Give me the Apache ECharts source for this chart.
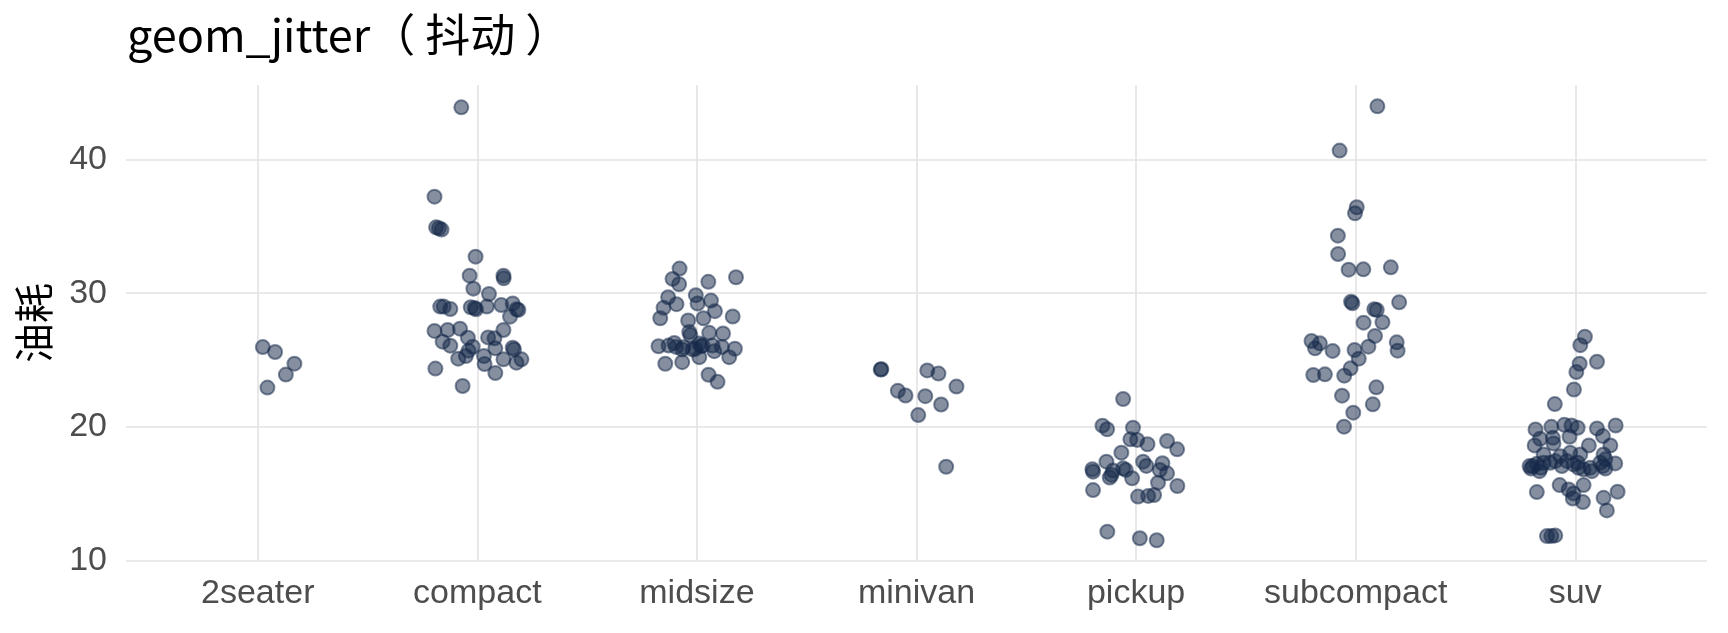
<!DOCTYPE html>
<html>
<head>
<meta charset="utf-8">
<script src="https://cdn.jsdelivr.net/npm/echarts@6/dist/echarts.min.js"></script>
<style>
html,body{margin:0;padding:0;background:#fff;}
#chart{width:1728px;height:633px;}
</style>
</head>
<body>
<div id="chart"></div>
<script>
// Categories (vehicle class)
var categories = ['2seater', 'compact', 'midsize', 'minivan', 'pickup', 'subcompact', 'suv'];
// Y tick labels
var yTicks = [10, 20, 30, 40];

// Jittered points per class: [horizontal jitter offset (category units), hwy value]
var seater2 = [[0.023,25.98],[0.079,25.61],[0.167,24.74],[0.128,23.92],[0.044,22.95]];
var compact = [[-0.073,43.88],[-0.195,37.21],[-0.188,34.92],[-0.163,34.75],[-0.175,34.85],[-0.008,32.73],[-0.035,31.31],[0.119,31.31],[0.120,31.11],[-0.018,30.34],[0.053,29.94],[-0.169,29.0],[-0.153,29.0],[-0.123,28.82],[-0.030,28.95],[-0.012,28.9],[-0.006,28.8],[0.043,29.0],[0.109,29.12],[0.161,29.24],[0.179,28.8],[0.187,28.75],[0.149,28.25],[-0.195,27.18],[-0.135,27.25],[-0.079,27.35],[0.119,27.25],[-0.158,26.38],[-0.123,26.08],[-0.043,26.68],[-0.021,26.0],[-0.040,25.71],[0.049,26.7],[0.078,26.63],[0.082,25.88],[0.161,25.93],[0.167,25.8],[-0.087,25.11],[-0.052,25.31],[0.030,25.31],[0.033,24.71],[0.119,25.06],[0.178,24.81],[0.201,25.06],[-0.191,24.37],[0.082,24.04],[-0.067,23.07]];
var midsize = [[-0.079,31.84],[-0.111,31.07],[-0.081,30.67],[0.052,30.85],[0.178,31.19],[-0.131,29.70],[-0.005,29.85],[0.003,29.23],[0.064,29.45],[-0.093,29.18],[-0.152,28.91],[0.082,28.66],[-0.167,28.13],[0.030,28.13],[0.163,28.26],[-0.040,27.96],[-0.035,27.11],[-0.030,26.87],[0.056,27.04],[0.119,26.99],[-0.175,26.04],[-0.129,26.09],[-0.103,26.29],[-0.095,25.99],[-0.067,25.80],[0.011,26.24],[0.018,26.04],[0.026,26.09],[-0.008,25.85],[0.071,26.09],[0.079,25.67],[0.114,25.99],[0.173,25.85],[0.147,25.22],[0.011,25.22],[-0.144,24.73],[-0.067,24.85],[0.053,23.91],[0.094,23.38],[-0.020,25.8],[-0.061,25.97]];
var minivan = [[-0.163,24.30],[-0.160,24.32],[0.049,24.23],[0.100,24.0],[0.182,23.03],[-0.085,22.71],[-0.050,22.36],[0.040,22.31],[0.112,21.69],[0.008,20.90],[0.135,17.04]];
var pickup = [[-0.059,22.10],[-0.153,20.11],[-0.132,19.84],[-0.014,19.96],[-0.026,19.09],[0.005,19.04],[0.052,18.72],[0.141,18.96],[0.187,18.34],[-0.067,18.09],[-0.135,17.42],[0.032,17.42],[0.047,17.10],[0.120,17.30],[-0.199,16.85],[-0.196,16.67],[-0.105,16.75],[-0.059,16.92],[-0.047,16.80],[0.108,16.80],[0.141,16.55],[-0.120,16.23],[-0.112,16.43],[-0.018,16.18],[0.100,15.85],[0.188,15.60],[-0.196,15.30],[0.009,14.81],[0.055,14.86],[0.082,14.93],[-0.131,12.19],[0.017,11.70],[0.094,11.55]];
var subcompact = [[0.099,43.96],[-0.073,40.65],[0.005,36.42],[-0.003,35.97],[-0.081,34.30],[-0.080,32.93],[-0.032,31.76],[0.035,31.78],[0.160,31.93],[-0.021,29.37],[-0.015,29.25],[0.198,29.32],[0.085,28.80],[0.096,28.75],[0.036,27.80],[0.122,27.83],[0.088,26.81],[0.058,26.01],[0.187,26.33],[0.191,25.71],[-0.201,26.43],[-0.185,25.88],[-0.163,26.26],[-0.105,25.69],[-0.005,25.76],[0.014,25.11],[-0.023,24.39],[-0.052,23.84],[-0.193,23.89],[-0.140,23.94],[0.094,22.97],[-0.062,22.35],[0.078,21.70],[-0.011,21.08],[-0.053,20.03]];
var suv = [[0.044,26.75],[0.023,26.12],[0.099,24.88],[0.020,24.73],[0.005,24.11],[-0.006,22.81],[-0.093,21.72],[-0.181,19.83],[-0.109,20.02],[-0.050,20.17],[-0.017,20.12],[0.011,19.95],[0.099,19.90],[0.184,20.12],[-0.160,19.13],[-0.102,19.20],[-0.026,19.28],[0.126,19.33],[-0.185,18.63],[-0.099,18.78],[0.062,18.63],[0.160,18.63],[-0.144,17.96],[-0.023,18.08],[0.023,17.96],[0.129,17.96],[-0.193,17.09],[-0.201,16.91],[-0.163,16.71],[-0.175,17.26],[-0.091,17.46],[-0.061,17.09],[-0.038,17.46],[-0.008,17.21],[0.015,16.96],[0.038,16.84],[0.076,16.71],[0.114,17.34],[0.137,16.91],[0.182,17.29],[-0.114,17.34],[-0.068,17.83],[-0.144,17.34],[0.126,17.09],[-0.071,15.67],[-0.030,15.34],[-0.008,15.05],[0.038,15.67],[0.035,14.40],[-0.011,14.67],[-0.175,15.15],[0.129,14.72],[0.193,15.17],[0.144,13.78],[-0.129,11.86],[-0.109,11.86],[-0.091,11.91],[-0.208,17.09],[-0.157,16.96],[0.011,17.34],[0.068,16.96],[0.137,17.59]];

var groups = [seater2, compact, midsize, minivan, pickup, subcompact, suv];
var points = [];
groups.forEach(function (g, i) {
  g.forEach(function (p) { points.push([i + p[0], p[1]]); });
});
var catIdx = categories.map(function (c, i) { return i; });

var chart = echarts.init(document.getElementById('chart'), null, {renderer: 'canvas'});
chart.setOption({
  animation: false,
  backgroundColor: '#ffffff',
  title: {
    text: 'geom_jitter（ 抖动 ）',
    left: 122,
    top: 7,
    textStyle: {fontFamily: 'Noto Sans CJK SC', fontSize: 45, fontWeight: 'normal', color: '#000000'}
  },
  grid: {left: 126, right: 21, top: 85, bottom: 72, containLabel: false},
  xAxis: {
    type: 'value',
    min: -0.6,
    max: 6.6,
    axisLine: {show: false},
    axisTick: {show: false, customValues: catIdx},
    axisLabel: {
      customValues: catIdx,
      margin: 16,
      fontFamily: 'Liberation Sans',
      fontSize: 34,
      color: '#4d4d4d',
      formatter: function (v) { return categories[Math.round(v)]; }
    },
    splitLine: {show: true, lineStyle: {color: '#e3e3e3', width: 1.6}}
  },
  yAxis: {
    type: 'value',
    min: 10,
    max: 45.55,
    name: '油耗',
    nameLocation: 'middle',
    nameRotate: 90,
    nameGap: 72,
    nameTextStyle: {fontFamily: 'Noto Sans CJK SC', fontSize: 40, color: '#000000'},
    axisLine: {show: false},
    axisTick: {show: false, customValues: yTicks},
    axisLabel: {
      customValues: yTicks,
      margin: 19,
      fontFamily: 'Liberation Sans',
      fontSize: 34,
      color: '#4d4d4d'
    },
    splitLine: {show: true, lineStyle: {color: '#e3e3e3', width: 1.6}}
  },
  series: [{
    type: 'scatter',
    data: points,
    symbol: 'circle',
    symbolSize: 14,
    itemStyle: {
      color: 'rgba(22,42,74,0.66)',
      borderColor: 'rgba(22,42,74,0.66)',
      borderWidth: 2
    }
  }]
});
</script>
</body>
</html>
